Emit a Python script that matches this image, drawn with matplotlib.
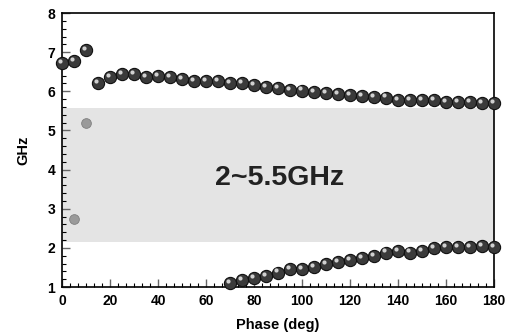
import matplotlib
matplotlib.use("Agg")
import matplotlib.pyplot as plt
from matplotlib.ticker import MultipleLocator
from matplotlib.transforms import offset_copy

phase_upper = [0, 5, 10, 15, 20, 25, 30, 35, 40, 45, 50, 55, 60, 65, 70, 75, 80,
               85, 90, 95, 100, 105, 110, 115, 120, 125, 130, 135, 140, 145, 150,
               155, 160, 165, 170, 175, 180]
ghz_upper = [6.73, 6.77, 7.05, 6.22, 6.37, 6.44, 6.44, 6.37, 6.39, 6.37, 6.32, 6.27,
             6.27, 6.27, 6.2, 6.2, 6.17, 6.12, 6.08, 6.03, 6.02, 5.97, 5.95, 5.92,
             5.9, 5.88, 5.86, 5.84, 5.78, 5.77, 5.78, 5.77, 5.73, 5.73, 5.73, 5.71, 5.69]
phase_lower = [70, 75, 80, 85, 90, 95, 100, 105, 110, 115, 120, 125, 130, 135, 140,
               145, 150, 155, 160, 165, 170, 175, 180]
ghz_lower = [1.11, 1.18, 1.22, 1.28, 1.37, 1.46, 1.46, 1.52, 1.58, 1.63, 1.69, 1.73,
             1.79, 1.88, 1.92, 1.88, 1.92, 1.99, 2.01, 2.03, 2.03, 2.05, 2.03]
phase_grey = [5, 10]
ghz_grey = [2.74, 5.19]
band = (2.15, 5.58)
band_label = "2~5.5GHz"

fig = plt.figure(figsize=(5.10, 3.34), dpi=100)
ax = fig.add_axes([0.1216, 0.1407, 0.847, 0.8203])
ax.set_xlim(0, 180)
ax.set_ylim(1, 8)

ax.axhspan(band[0], band[1], color="#e4e4e4", zorder=0, lw=0)
ax.text(90.5, 3.78, band_label, fontsize=20.5, fontweight="bold", color="#222222",
        ha="center", va="center", family="Liberation Sans")

hl = offset_copy(ax.transData, fig=fig, x=-1.5, y=1.5, units="points")
for xs, ys in [(phase_upper, ghz_upper), (phase_lower, ghz_lower)]:
    ax.plot(xs, ys, "o", ms=8.8, mfc="#3a3a3a", mec="#111111", mew=0.8,
            ls="none", zorder=3, clip_on=False)
    ax.plot(xs, ys, "o", ms=3, mfc="#d0d0d0", mec="none", ls="none", zorder=4,
            transform=hl, clip_on=False)
ax.plot(phase_grey, ghz_grey, "o", ms=7, mfc="#9a9a9a", mec="#808080", mew=0.6,
        ls="none", zorder=3)

for s in ax.spines.values():
    s.set_linewidth(1.2)
    s.set_color("black")

ax.xaxis.set_major_locator(MultipleLocator(20))
ax.xaxis.set_minor_locator(MultipleLocator(20 / 6))
ax.yaxis.set_major_locator(MultipleLocator(1))
ax.yaxis.set_minor_locator(MultipleLocator(0.2))
ax.tick_params(direction="in", which="major", length=6, width=1, color="#666666",
               labelsize=10, pad=5)
ax.tick_params(direction="in", which="minor", length=3, width=0.8, color="black")
for lab in ax.get_xticklabels() + ax.get_yticklabels():
    lab.set_fontweight("bold")
    lab.set_family("Liberation Sans")

ax.set_xlabel("Phase (deg)", fontsize=10.5, fontweight="bold", family="Liberation Sans",
              labelpad=7)
ax.set_ylabel("GHz", fontsize=10.5, fontweight="bold", family="Liberation Sans",
              labelpad=12)

fig.savefig("out.png", dpi=100)
